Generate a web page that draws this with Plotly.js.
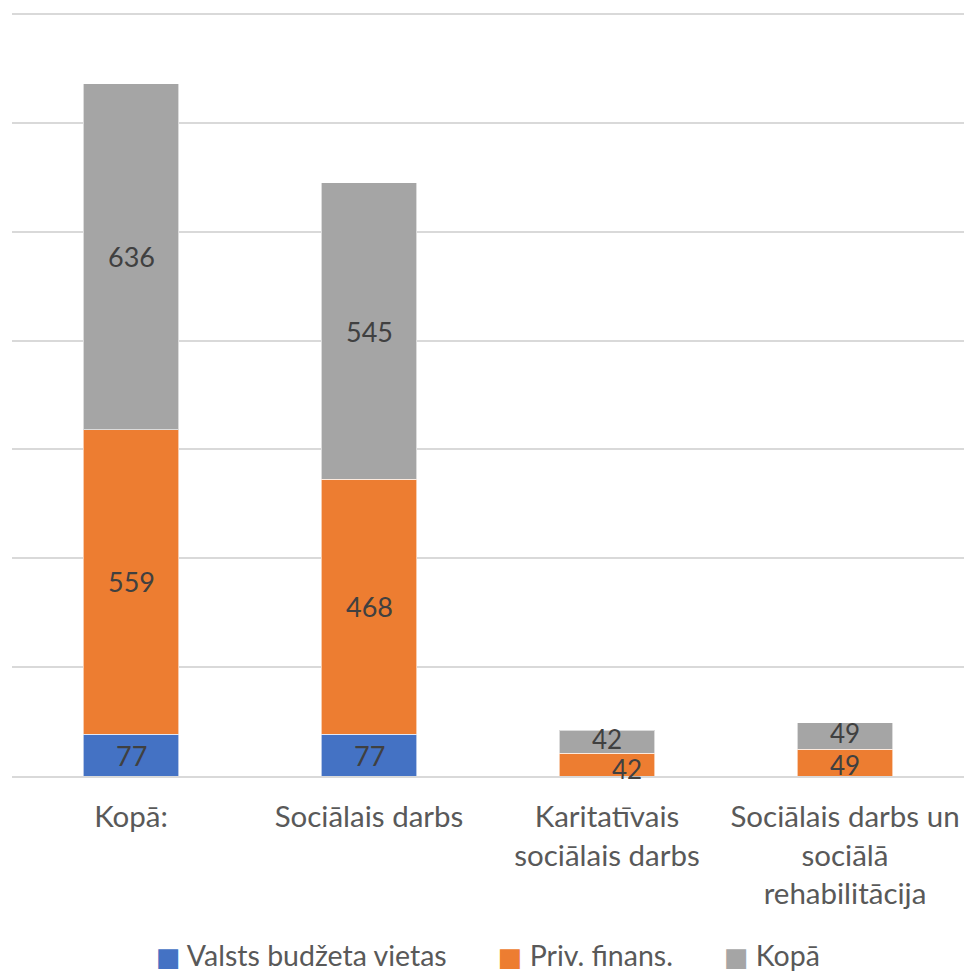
<!DOCTYPE html>
<html><head><meta charset="utf-8">
<script src="https://cdn.plot.ly/plotly-3.0.1.min.js"></script>
<style>body{margin:0;background:#fff}#c{width:964px;height:974px}</style>
</head><body><div id="c"></div>
<script>
const categories = ["Kopā:", "Sociālais darbs", "Karitatīvais<br>sociālais darbs", "Sociālais darbs un<br>sociālā<br>rehabilitācija"];
const valsts = [77, 77, null, null];
const priv = [559, 468, 42, 49];
const kopa = [636, 545, 42, 49];
const seriesNames = ["Valsts budžeta vietas", "Priv. finans.", "Kopā"];
const colors = ["#4472C4", "#ED7D31", "#A5A5A5"];

const font = "Lato, 'Open Sans', sans-serif";
const series = [valsts, priv, kopa];
const data = series.map((vals, i) => ({
  type: "bar", name: seriesNames[i], x: categories, y: vals,
  marker: {color: colors[i], line: {color: "rgba(255,255,255,0.6)", width: 1}},
  textposition: "none", hoverinfo: "none", showlegend: false
}));

// data labels at segment centres
const annotations = [];
const base = categories.map(() => 0);
series.forEach((vals, i) => {
  vals.forEach((v, j) => {
    if (v == null) return;
    const small = (i === 1 && j === 2);
    const tiny = v < 100;
    let ys = 0;
    if (small) ys = -4;
    else if (tiny && i === 2) ys = 3;
    else if (tiny && i === 1) ys = -2;
    annotations.push({
      x: categories[j], y: base[j] + v / 2, xref: "x", yref: "y",
      text: String(v), showarrow: false,
      xshift: small ? 20 : 0, yshift: ys,
      font: {family: font, size: (tiny && i > 0) ? 26 : 27, color: "#404040"}
    });
    base[j] += v;
  });
});
// legend
annotations.push({
  xref: "paper", yref: "paper", x: 0.5, y: -0.235, xanchor: "center", yanchor: "middle",
  showarrow: false,
  text: seriesNames.map((n, i) => '<span style="color:' + colors[i] + ';font-family:\'DejaVu Sans\';font-size:26px">■</span> ' + n).join("       "),
  font: {family: font, size: 28.5, color: "#595959"}
});

const layout = {
  width: 964, height: 974, barmode: "stack", bargap: 0.6,
  margin: {l: 12, r: 0, t: 13, b: 198},
  paper_bgcolor: "#fff", plot_bgcolor: "#fff",
  font: {family: font, color: "#595959"},
  xaxis: {tickfont: {family: font, size: 29.5, color: "#595959"}, showline: true, linecolor: "#d9d9d9", linewidth: 2, ticks: "", ticklabelstandoff: 14},
  yaxis: {range: [0, 1402], dtick: 200, showticklabels: false, gridcolor: "#d9d9d9", gridwidth: 1.5, zeroline: false},
  showlegend: false,
  annotations: annotations
};
Plotly.newPlot("c", data, layout, {displayModeBar: false});
</script></body></html>
